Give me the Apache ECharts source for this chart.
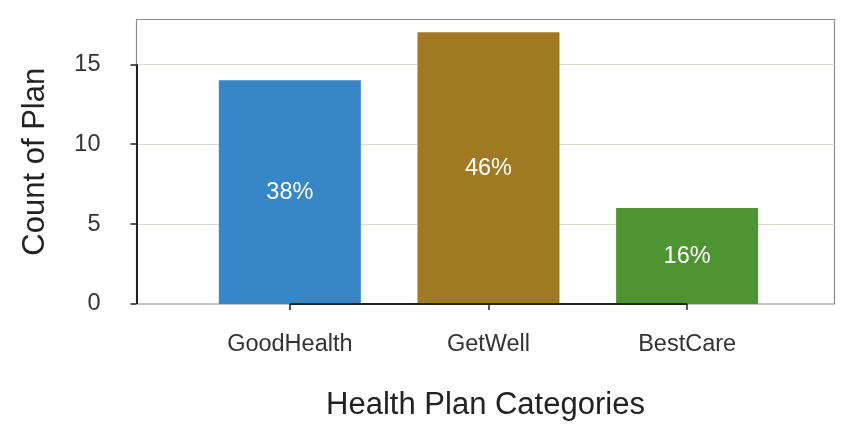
<!DOCTYPE html>
<html>
<head>
<meta charset="utf-8">
<script src="https://cdn.jsdelivr.net/npm/echarts@6/dist/echarts.min.js"></script>
<style>html,body{margin:0;padding:0;background:#fff}#c{width:864px;height:432px}</style>
</head>
<body>
<div id="c"></div>
<script>
const categories = ['GoodHealth', 'GetWell', 'BestCare'];
const counts = [14, 17, 6];
const colors = ['#3787c6', '#a17922', '#4f9432'];
const yTicks = [0, 5, 10, 15];
const xPositions = [1, 2, 3];

const total = counts.reduce((a, b) => a + b, 0);
const xMin = 0.228, xMax = 3.742;
const FONT = 'Liberation Sans, Arial, Helvetica, sans-serif';

const chart = echarts.init(document.getElementById('c'), null, {renderer: 'canvas'});
chart.setOption({
  animation: false,
  backgroundColor: '#fff',
  grid: {left: 136.5, right: 29.5, top: 19.5, bottom: 128, show: true, borderColor: '#8c8c8c', borderWidth: 1.2, backgroundColor: 'transparent'},
  xAxis: {
    type: 'value', min: xMin, max: xMax,
    name: 'Health Plan Categories', nameLocation: 'middle', nameGap: 86,
    nameTextStyle: {fontSize: 31, color: '#222', fontFamily: FONT},
    axisLine: {show: false},
    axisTick: {show: true, customValues: xPositions, length: 6, lineStyle: {color: '#222', width: 1.5}},
    axisLabel: {customValues: xPositions, margin: 29, fontSize: 23.5, color: '#333', fontFamily: FONT,
      formatter: v => categories[Math.round(v) - 1] || ''},
    splitLine: {show: false}
  },
  yAxis: {
    type: 'value', min: 0, max: 17.8, interval: 5,
    name: 'Count of Plan', nameLocation: 'middle', nameGap: 86,
    nameTextStyle: {fontSize: 31, color: '#222', fontFamily: FONT},
    axisLine: {show: false},
    axisTick: {show: true, customValues: yTicks, length: 6, lineStyle: {color: '#222', width: 1.5}},
    axisLabel: {customValues: yTicks, margin: 36, fontSize: 23.5, color: '#333', fontFamily: FONT},
    splitLine: {show: true, showMinLine: false, showMaxLine: true, lineStyle: {color: '#dcd8c8', width: 1.2}}
  },
  series: [
    {
      type: 'bar', barWidth: 142, z: 3,
      data: counts.map((v, i) => ({value: [xPositions[i], v], itemStyle: {color: colors[i]}})),
      label: {show: true, position: 'inside', color: '#fff', fontSize: 23.5, fontFamily: FONT,
        formatter: p => Math.round(p.value[1] / total * 100) + '%'},
      markLine: {
        silent: true, symbol: 'none', label: {show: false}, animation: false,
        lineStyle: {color: '#222', width: 2, type: 'solid'},
        data: [
          [{coord: [xMin, yTicks[0]]}, {coord: [xMin, yTicks[yTicks.length - 1]]}],
          [{coord: [xPositions[0], 0]}, {coord: [xPositions[xPositions.length - 1], 0]}]
        ]
      }
    }
  ]
});
</script>
</body>
</html>
